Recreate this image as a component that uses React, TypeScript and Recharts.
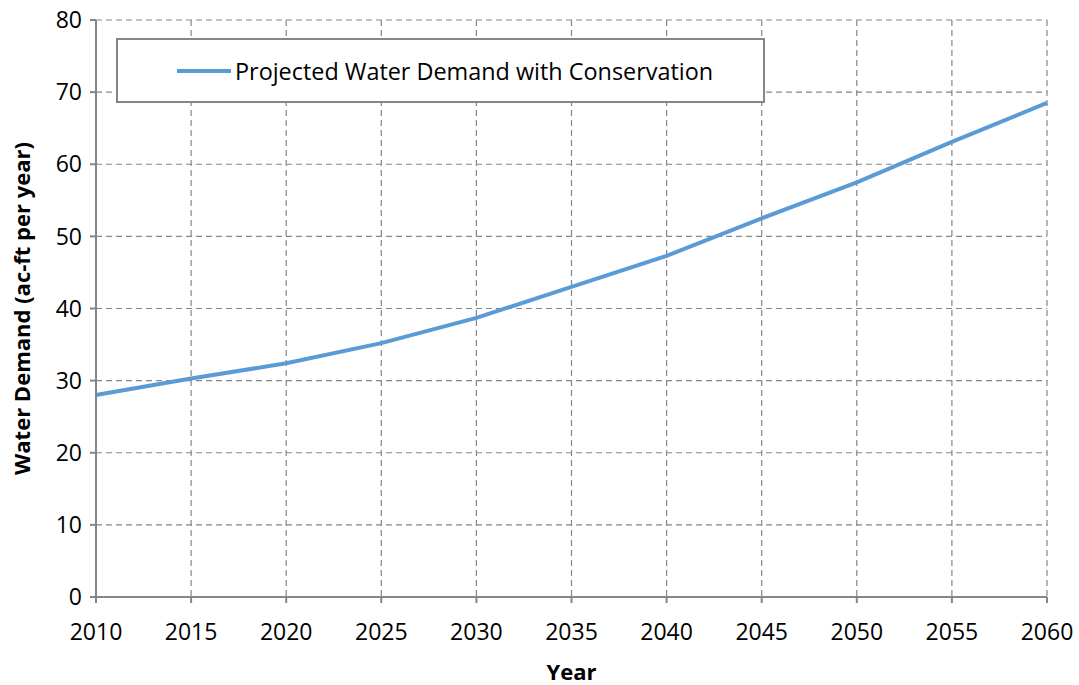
import React from 'react';
import { LineChart, Line, XAxis, YAxis, CartesianGrid } from 'recharts';

const years = [2010, 2015, 2020, 2025, 2030, 2035, 2040, 2045, 2050, 2055, 2060];
const demand = [28.0, 30.3, 32.4, 35.2, 38.7, 43.0, 47.3, 52.5, 57.5, 63.1, 68.5];
const xTicks = [2010, 2015, 2020, 2025, 2030, 2035, 2040, 2045, 2050, 2055, 2060];
const yTicks = [0, 10, 20, 30, 40, 50, 60, 70, 80];
const seriesName = 'Projected Water Demand with Conservation';

const data = years.map((y, i) => ({ year: y, demand: demand[i] }));

const FONT = "'Open Sans', 'Noto Sans', sans-serif";
const GRAY = '#868686';
const BLUE = '#5B9BD5';

const LegendBox = () => (
  <div
    style={{
      position: 'absolute',
      left: 116,
      top: 38,
      width: 649,
      height: 65,
      boxSizing: 'border-box',
      border: `2px solid ${GRAY}`,
      background: '#fff',
      display: 'flex',
      alignItems: 'center',
      fontFamily: FONT,
      fontSize: 23.4,
      color: '#000',
    }}
  >
    <div style={{ width: 54, height: 4, background: BLUE, marginLeft: 59, marginRight: 4 }} />
    <span>{seriesName}</span>
  </div>
);

export default function App() {
  return (
    <div style={{ position: 'absolute', left: 0, top: 0, width: 1079, height: 685 }}>
      <LineChart
        width={1079}
        height={685}
        data={data}
        margin={{ top: 20, right: 32, left: 10, bottom: 0 }}
        style={{ fontFamily: FONT }}
      >
        <CartesianGrid stroke={GRAY} strokeDasharray="6 4" strokeWidth={1.2} />
        <XAxis
          dataKey="year"
          type="number"
          domain={[2010, 2060]}
          ticks={xTicks}
          interval={0}
          height={88}
          tickSize={6}
          tickMargin={21}
          stroke={GRAY}
          strokeWidth={2}
          tick={{ fill: '#000', fontSize: 23, fontFamily: FONT }}
          label={{
            value: 'Year',
            position: 'insideBottom',
            offset: 5,
            style: { fill: '#000', fontSize: 22, fontWeight: 'bold', fontFamily: FONT },
          }}
        />
        <YAxis
          type="number"
          domain={[0, 80]}
          ticks={yTicks}
          interval={0}
          width={86}
          tickSize={6}
          tickMargin={8}
          stroke={GRAY}
          strokeWidth={2}
          tick={{ fill: '#000', fontSize: 23, fontFamily: FONT }}
          label={{
            value: 'Water Demand (ac-ft per year)',
            angle: -90,
            position: 'insideLeft',
            offset: 12,
            style: { textAnchor: 'middle', fill: '#000', fontSize: 22, fontWeight: 'bold', fontFamily: FONT },
          }}
        />
        <Line
          type="linear"
          dataKey="demand"
          name={seriesName}
          stroke={BLUE}
          strokeWidth={4}
          dot={false}
          activeDot={false}
          isAnimationActive={false}
        />
      </LineChart>
      <LegendBox />
    </div>
  );
}
